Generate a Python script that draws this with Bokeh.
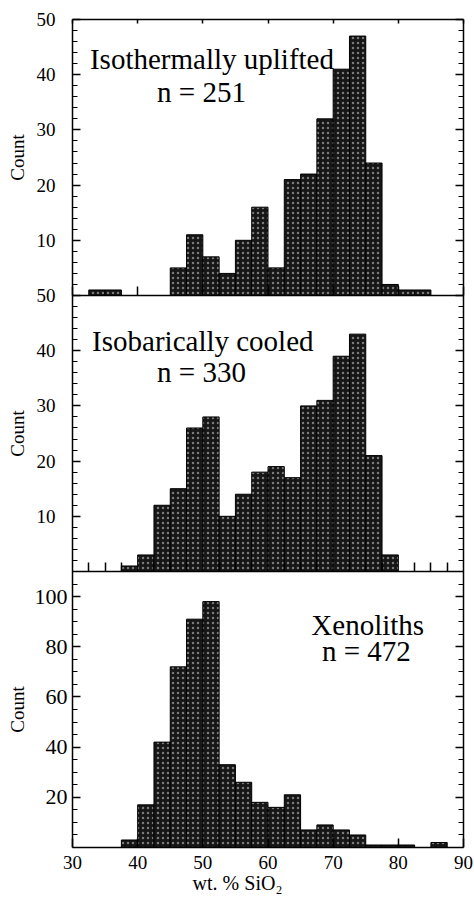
import math
from bokeh.plotting import figure
from bokeh.models import (Range1d, LinearAxis, FixedTicker, Label)
from bokeh.embed import file_html
from bokeh.resources import INLINE

# ---- data ----
bin_start = [30.0, 32.5, 35.0, 37.5, 40.0, 42.5, 45.0, 47.5, 50.0, 52.5, 55.0, 57.5,
             60.0, 62.5, 65.0, 67.5, 70.0, 72.5, 75.0, 77.5, 80.0, 82.5, 85.0, 87.5]
bin_width = 2.5
iso_uplift = [0, 1, 1, 0, 0, 0, 5, 11, 7, 4, 10, 16,
              5, 21, 22, 32, 41, 47, 24, 2, 1, 1, 0, 0]
iso_cooled = [0, 0, 0, 1, 3, 12, 15, 26, 28, 10, 14, 18,
              19, 17, 30, 31, 39, 43, 21, 3, 0, 0, 0, 0]
xenoliths = [0, 0, 0, 3, 17, 42, 72, 91, 98, 33, 26, 18,
             16, 21, 7, 9, 7, 5, 1, 1, 1, 0, 2, 0]
titles = ["Isothermally uplifted", "Isobarically cooled", "Xenoliths"]
n_labels = ["n = 251", "n = 330", "n = 472"]
x_ticks = [30, 40, 50, 60, 70, 80, 90]
x_minor = [32.5, 35, 37.5, 42.5, 45, 47.5, 52.5, 55, 57.5, 62.5, 65, 67.5,
           72.5, 75, 77.5, 82.5, 85, 87.5]
y_ticks_50 = [10, 20, 30, 40, 50]
y_minor_50 = [2, 4, 6, 8, 12, 14, 16, 18, 22, 24, 26, 28, 32, 34, 36, 38, 42, 44, 46, 48]
y_ticks_110 = [20, 40, 60, 80, 100]
y_minor_110 = [5, 10, 15, 25, 30, 35, 45, 50, 55, 65, 70, 75, 85, 90, 95, 105]
y_label = "Count"
x_label = "wt. % SiO\u2082"

FONT = "Liberation Serif"

# ---- layout geometry (pixels) ----
W, H = 474, 900
BOTTOM_BORDER = 53
FRAME_H = H - BOTTOM_BORDER          # frame spans the full width and the top
PANEL_H = 276                        # height of each of the three panels
AX_L, AX_R = 72, 463                 # pixel position of x = 30 and x = 90
XMIN, XMAX = 30, 90
ppu = (AX_R - AX_L) / (XMAX - XMIN)
x_start = XMIN - AX_L / ppu
x_end = XMAX + (W - AX_R) / ppu

# y ranges: each panel occupies one third of the lower frame
def panel_range(panel_index, top_value):
    below = (2 - panel_index) * PANEL_H      # pixels below the panel's zero
    above = FRAME_H - below                  # pixels above the panel's zero
    per = top_value / PANEL_H
    return Range1d(-below * per, above * per)

p = figure(width=W, height=H, output_backend="svg", toolbar_location=None,
           x_range=Range1d(x_start, x_end), y_range=panel_range(2, 110),
           x_axis_type=None, y_axis_type=None,
           min_border_left=0, min_border_right=0, min_border_top=0,
           min_border_bottom=BOTTOM_BORDER)
p.extra_y_ranges = {"top": panel_range(0, 50), "mid": panel_range(1, 50)}
p.xgrid.visible = False
p.ygrid.visible = False
p.outline_line_color = None
p.background_fill_color = "white"
p.border_fill_color = "white"

panels = [("top", iso_uplift), ("mid", iso_cooled), ("default", xenoliths)]
for name, counts in panels:
    right = [b + bin_width for b in bin_start]
    p.quad(left=bin_start, right=right, bottom=0, top=counts, y_range_name=name,
           fill_color="#161616", line_color="black", line_width=1,
           hatch_pattern="dot", hatch_color="#7a7a7a", hatch_scale=5, hatch_weight=1)

# bottom x axis
xa = LinearAxis(ticker=FixedTicker(ticks=x_ticks), axis_label=x_label,
                bounds=(XMIN, XMAX))
xa.major_tick_in = 9
xa.major_tick_out = 0
xa.minor_tick_in = 0
xa.minor_tick_out = 0
xa.axis_line_width = 1.5
xa.major_tick_line_width = 1.5
xa.major_label_text_font = FONT
xa.major_label_text_font_size = "19px"
xa.major_label_text_color = "black"
xa.major_label_standoff = 8
xa.axis_label_text_font = FONT
xa.axis_label_text_font_size = "20px"
xa.axis_label_text_font_style = "normal"
xa.axis_label_text_color = "black"
xa.axis_label_standoff = 0
p.add_layout(xa, "below")

# inner separators with ticks, and the top edge
for name, ticks, loc, side in (("top", x_ticks, 0, "below"),
                               ("mid", x_minor, 0, "below"),
                               ("top", x_ticks, 50, "above")):
    sa = LinearAxis(ticker=FixedTicker(ticks=ticks), y_range_name=name,
                    fixed_location=loc, bounds=(XMIN, XMAX))
    sa.major_tick_in = 9 if loc == 0 else 4
    sa.major_tick_out = 0
    sa.minor_tick_in = 0
    sa.minor_tick_out = 0
    sa.axis_line_width = 1.5
    sa.major_tick_line_width = 1.5
    sa.major_label_text_font_size = "0px"
    sa.major_label_text_alpha = 0
    p.add_layout(sa, side)

# y axes: (range, ticks, minor ticks, bounds, label size, label offset)
yspecs = [("top", y_ticks_50, y_minor_50, (0, 50), "19px", -17),
          ("mid", y_ticks_50, y_minor_50, (0, 50), "19px", -17),
          ("default", y_ticks_110, y_minor_110, (0, 110), "22px", -5)]
for name, ticks, minor, bnds, fsize, xoff in yspecs:
    for side, loc in (("left", XMIN), ("right", XMAX)):
        ya = LinearAxis(ticker=FixedTicker(ticks=ticks, minor_ticks=minor),
                        y_range_name=name, fixed_location=loc, bounds=bnds)
        ya.major_tick_in = 8
        ya.major_tick_out = 0
        ya.minor_tick_in = 5
        ya.minor_tick_out = 0
        ya.axis_line_width = 1.5
        ya.major_tick_line_width = 1.5
        ya.minor_tick_line_width = 1.2
        ya.major_label_text_font_size = "0px"
        ya.major_label_text_alpha = 0
        p.add_layout(ya, side)
    for t in ticks:
        p.add_layout(Label(x=XMIN, y=t, y_range_name=name, x_offset=xoff,
                           text=str(t), text_font=FONT, text_font_size=fsize,
                           text_align="right", text_baseline="middle",
                           text_color="black"))
    p.add_layout(Label(x=XMIN, y=(bnds[0] + bnds[1]) / 2, y_range_name=name,
                       x_offset=-55, text=y_label, angle=math.pi / 2,
                       text_font=FONT, text_font_size="19px",
                       text_align="center", text_baseline="middle",
                       text_color="black"))

# panel titles
label_pos = [("top", 51.4, 42.9, 49.8, 36.8),
             ("mid", 50.0, 41.8, 49.8, 36.2),
             ("default", 75.3, 88.5, 75.1, 78.5)]
for (name, tx, ty, nx, ny), t, nl in zip(label_pos, titles, n_labels):
    for txt, x, y in ((t, tx, ty), (nl, nx, ny)):
        p.add_layout(Label(x=x, y=y, y_range_name=name, text=txt,
                           text_font=FONT, text_font_size="29px",
                           text_align="center", text_baseline="alphabetic",
                           text_color="black"))

open("out.html", "w").write(file_html(p, INLINE))
